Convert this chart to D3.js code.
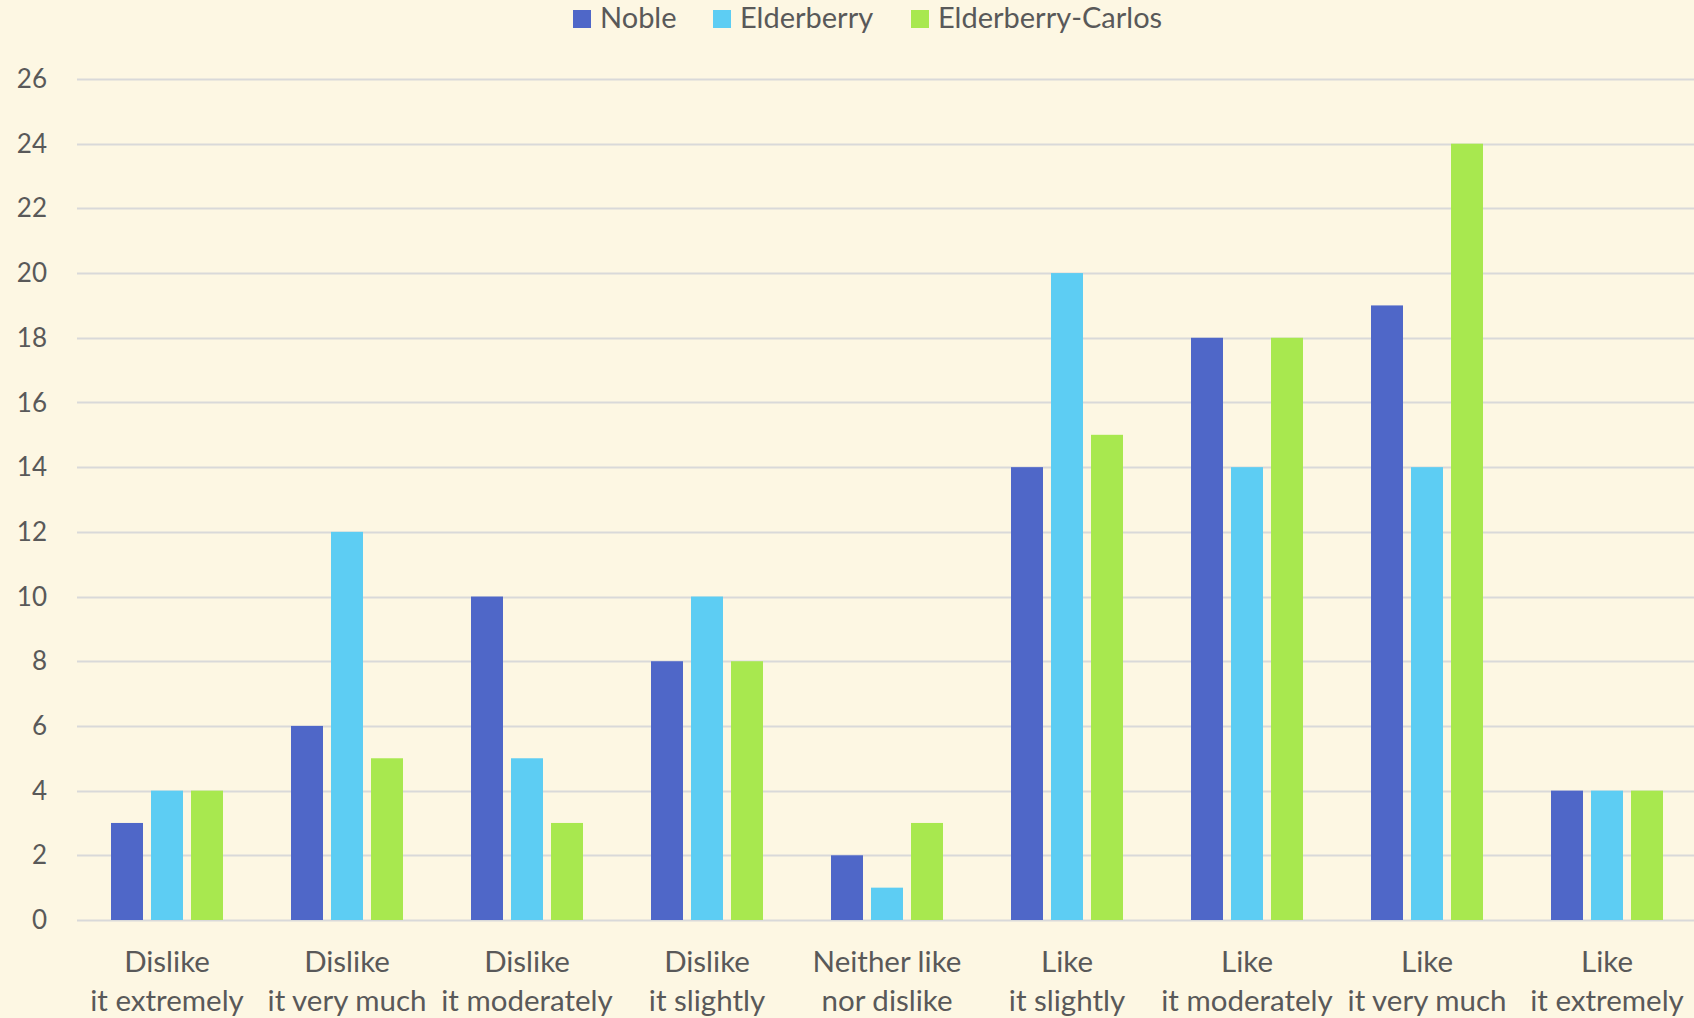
<!DOCTYPE html>
<html>
<head>
<meta charset="utf-8">
<script src="https://cdn.jsdelivr.net/npm/d3@7"></script>
<style>
  html, body { margin: 0; padding: 0; background: #fdf7e3; }
  svg { display: block; }
  text { font-family: Lato, "Open Sans", sans-serif; fill: #595959; }
</style>
</head>
<body>
<svg id="chart" width="1694" height="1018"></svg>
<script>
// categories (two-line labels)
var categories = [
  ['Dislike', 'it extremely'],
  ['Dislike', 'it very much'],
  ['Dislike', 'it moderately'],
  ['Dislike', 'it slightly'],
  ['Neither like', 'nor dislike'],
  ['Like', 'it slightly'],
  ['Like', 'it moderately'],
  ['Like', 'it very much'],
  ['Like', 'it extremely']
];
var seriesNames = ['Noble', 'Elderberry', 'Elderberry-Carlos'];
var noble = [3, 6, 10, 8, 2, 14, 18, 19, 4];
var elderberry = [4, 12, 5, 10, 1, 20, 14, 14, 4];
var elderberryCarlos = [4, 5, 3, 8, 3, 15, 18, 24, 4];
var yTicks = d3.range(0, 27, 2);
var colors = ['#4f67c8', '#5dcdf3', '#a8e84f'];

var svg = d3.select('#chart');
var margin = { left: 77, right: -3, top: 79, bottom: 98 };
var width = 1694 - margin.left - margin.right;
var height = 1018 - margin.top - margin.bottom;

var g = svg.append('g').attr('transform', 'translate(' + margin.left + ',' + margin.top + ')');

var x = d3.scaleBand().domain(d3.range(categories.length)).range([0, width]);
var y = d3.scaleLinear().domain([0, 26]).range([height, 0]);

var barW = 32, gap = 8;
var groupW = barW * 3 + gap * 2;
// sub-band for series within a category
var xs = d3.scaleBand().domain(seriesNames).range([0, groupW]).paddingInner(gap / (barW + gap));

// gridlines
g.selectAll('.grid')
  .data(yTicks)
  .enter().append('line')
  .attr('class', 'grid')
  .attr('x1', 0).attr('x2', width)
  .attr('y1', function (d) { return Math.round(y(d)) + 0.5; })
  .attr('y2', function (d) { return Math.round(y(d)) + 0.5; })
  .attr('stroke', '#d9d9d9')
  .attr('stroke-width', 2);

// y tick labels
g.selectAll('.ytick')
  .data(yTicks)
  .enter().append('text')
  .attr('class', 'ytick')
  .attr('x', -30)
  .attr('y', function (d) { return y(d); })
  .attr('dy', '0.35em')
  .attr('text-anchor', 'end')
  .style('font-size', '26px')
  .text(function (d) { return d; });

var data = [noble, elderberry, elderberryCarlos];

// bars
data.forEach(function (vals, si) {
  g.selectAll('.bar-' + si)
    .data(vals)
    .enter().append('rect')
    .attr('class', 'bar-' + si)
    .attr('x', function (d, i) { return x(i) + (x.bandwidth() - groupW) / 2 + xs(seriesNames[si]); })
    .attr('y', function (d) { return y(d); })
    .attr('width', xs.bandwidth())
    .attr('height', function (d) { return y(0) - y(d); })
    .attr('fill', colors[si]);
});

// category labels
var cat = g.selectAll('.cat')
  .data(categories)
  .enter().append('text')
  .attr('class', 'cat')
  .attr('text-anchor', 'middle')
  .style('font-size', '29.5px')
  .attr('transform', function (d, i) { return 'translate(' + (x(i) + x.bandwidth() / 2) + ',' + (972 - margin.top) + ')'; });
cat.selectAll('tspan')
  .data(function (d) { return d; })
  .enter().append('tspan')
  .attr('x', 0)
  .attr('dy', function (d, i) { return i === 0 ? 0 : 39; })
  .text(function (d) { return d; });

// legend
var legendX = [573, 713, 911];
var legend = svg.selectAll('.legend')
  .data(seriesNames)
  .enter().append('g')
  .attr('class', 'legend')
  .attr('transform', function (d, i) { return 'translate(' + legendX[i] + ',10)'; });
legend.append('rect')
  .attr('width', 18).attr('height', 18)
  .attr('fill', function (d, i) { return colors[i]; });
legend.append('text')
  .attr('x', 27).attr('y', 18)
  .style('font-size', '29px')
  .text(function (d) { return d; });
</script>
</body>
</html>
